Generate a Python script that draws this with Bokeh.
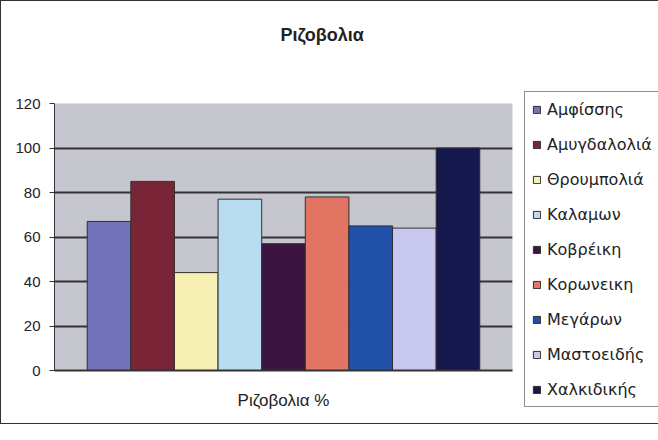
from bokeh.plotting import figure
from bokeh.models import Range1d, FixedTicker, Legend, LegendItem, ColumnDataSource, Title
from bokeh.embed import file_html
from bokeh.resources import INLINE

# ---- data ----
categories = ["Αμφίσσης", "Αμυγδαλολιά", "Θρουμπολιά", "Καλαμων", "Κοβρέικη",
              "Κορωνεικη", "Μεγάρων", "Μαστοειδής", "Χαλκιδικής"]
values = [67, 85, 44, 77, 57, 78, 65, 64, 100]
colors = ["#7272b8", "#7a2438", "#f6f0b4", "#b8dcf0", "#3c1440",
          "#e27464", "#2050a8", "#c8c8ee", "#14184c"]
y_ticks = [0, 20, 40, 60, 80, 100, 120]
grid_ticks = [20, 40, 60, 80, 100]
title_text = "Ριζοβολια"
x_label = "Ριζοβολια %"

positions = [i + 0.5 for i in range(len(categories))]
source = ColumnDataSource(dict(x=positions, top=values, color=colors, name=categories))

p = figure(frame_width=458, frame_height=267, output_backend="svg", toolbar_location=None,
           x_range=Range1d(-0.75, len(categories) + 0.75), y_range=Range1d(0, 120),
           min_border_left=53, min_border_right=137, min_border_top=102, min_border_bottom=53,
           background_fill_color="#c6c6ce", border_fill_color="white",
           title_location=None)
p.styles = {"border-top": "1px solid #333", "border-left": "1px solid #333",
            "border-bottom": "1px solid #333"}
p.outline_line_color = None

spacer = Title(text=" ", text_font_size="10px", standoff=25)
main_title = Title(text=title_text, align="left", offset=226, standoff=42,
                   text_font="Liberation Sans", text_font_size="18px",
                   text_font_style="bold", text_color="#222222")
p.add_layout(spacer, "above")
p.add_layout(main_title, "above")

r = p.vbar(x="x", top="top", width=1.0, source=source, fill_color="color",
           line_color="#303030", line_width=1)

# axes
p.xaxis.ticker = FixedTicker(ticks=[])
p.xaxis.major_tick_out = 0
p.xaxis.major_tick_in = 0
p.xaxis.minor_tick_line_color = None
p.xaxis.axis_label = x_label
p.xaxis.axis_label_text_font = "Liberation Sans"
p.xaxis.axis_label_text_font_size = "17px"
p.xaxis.axis_label_text_font_style = "normal"
p.xaxis.axis_label_text_color = "#222222"
p.xaxis.axis_label_standoff = 20
p.xaxis.axis_line_color = "#333333"
p.xaxis.axis_line_width = 2

p.yaxis.ticker = FixedTicker(ticks=y_ticks)
p.yaxis.major_tick_out = 5
p.yaxis.major_tick_in = 0
p.yaxis.minor_tick_line_color = None
p.yaxis.major_label_standoff = 9
p.yaxis.major_label_text_font = "Liberation Sans"
p.yaxis.major_label_text_font_size = "15px"
p.yaxis.major_label_text_color = "#222222"
p.yaxis.axis_line_color = "#333344"
p.yaxis.major_tick_line_color = "#333333"

p.xgrid.grid_line_color = None
p.ygrid.ticker = FixedTicker(ticks=grid_ticks)
p.ygrid.grid_line_color = "#333333"
p.ygrid.grid_line_width = 2

items = [LegendItem(label=name, renderers=[r], index=i) for i, name in enumerate(categories)]
legend = Legend(items=items, location=(12, -37))
legend.label_text_font = "DejaVu Sans"
legend.label_text_font_size = "16px"
legend.label_text_color = "#222222"
legend.label_height = 20
legend.glyph_height = 9
legend.glyph_width = 9
legend.label_standoff = 6
legend.spacing = 15
legend.padding = 7
legend.margin = 0
legend.border_line_color = "#222222"
legend.border_line_width = 1
legend.background_fill_color = "white"
legend.background_fill_alpha = 1.0
p.add_layout(legend, "right")

open("out.html", "w").write(file_html(p, INLINE))
